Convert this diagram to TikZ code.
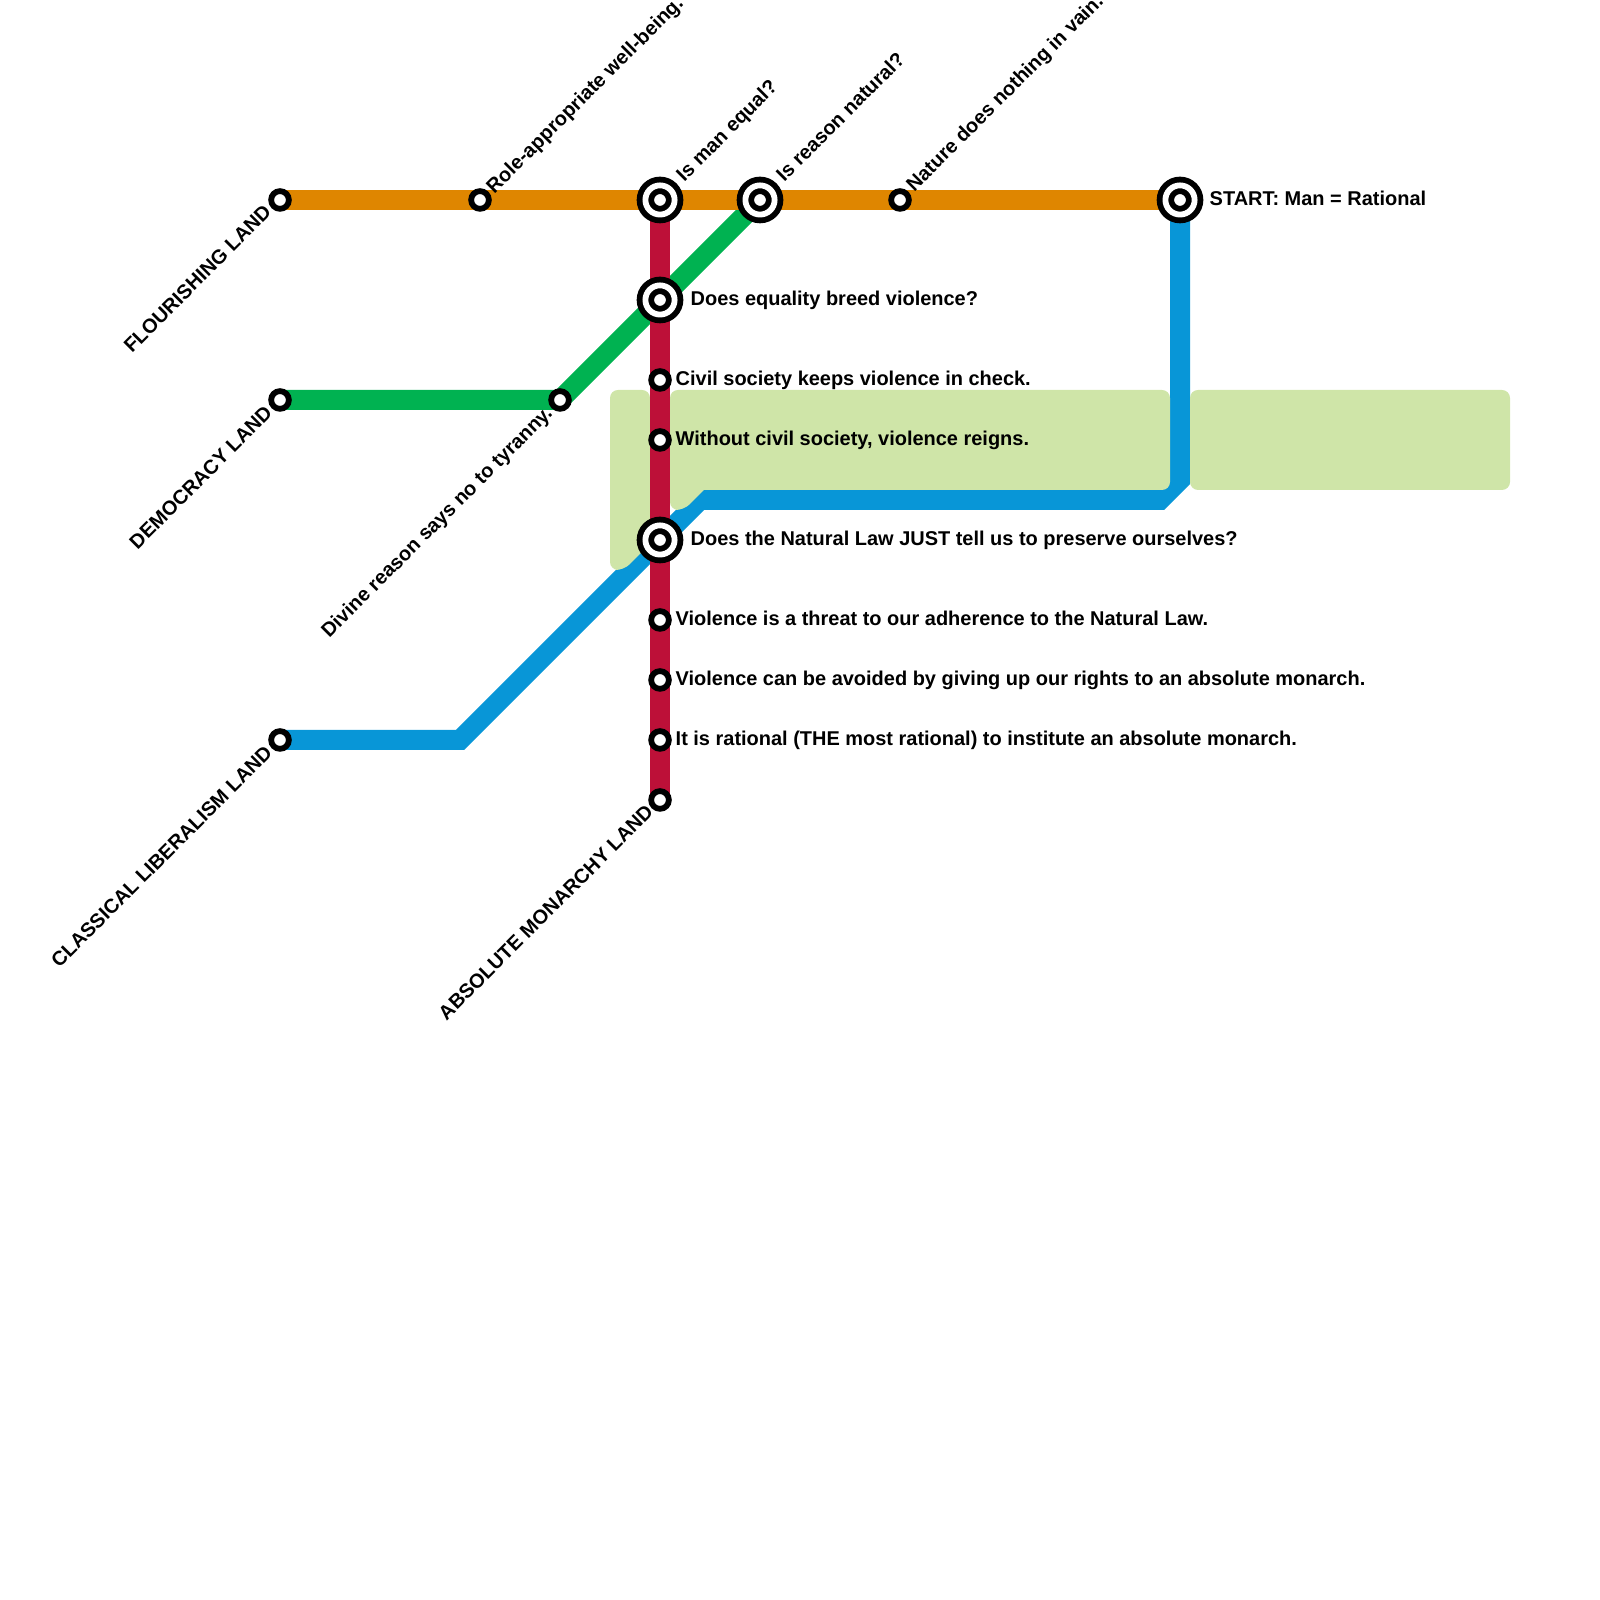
\documentclass[tikz,border=0pt]{standalone}
\usepackage{xcolor}
\usepackage{fontspec}
\setmainfont{Liberation Sans}
\usetikzlibrary{backgrounds}
\definecolor{MapOrange}{HTML}{DF8600}
\definecolor{MapGreen}{HTML}{00B251}
\definecolor{MapRed}{HTML}{BD1038}
\definecolor{MapBlue}{HTML}{0896D7}
\definecolor{MapZone}{HTML}{CFE5A8}
\tikzset{
  stop/.style={circle,draw=black,fill=white,line width=0.058cm,minimum size=0.177cm,inner sep=0pt,outer sep=0pt},
  hub/.style={circle,draw=black,fill=white,line width=0.058cm,double=white,double distance=0.058cm,minimum size=0.292cm,inner sep=0pt,outer sep=0pt},
  maplabel/.style={font=\bfseries\fontsize{5.68}{6.8}\selectfont,inner sep=0pt,text height=0.15cm,text depth=0.04cm},
  sidelabel/.style={maplabel,anchor=west},
  uplabel/.style={maplabel,anchor=west,rotate=45},
  downlabel/.style={maplabel,anchor=east,rotate=45},
  mapline/.style={line width=0.2cm,line join=miter},
  zone/.style={fill=MapZone,rounded corners=0.08cm}
}
\begin{document}
\begin{tikzpicture}[x=1cm,y=1cm]
\path[use as bounding box] (0,0) rectangle (16.00,16.00);
\node[stop] (flourishing) at (2.80,14.00) {};
\node[stop] (role) at (4.80,14.00) {};
\node[hub] (manequal) at (6.60,14.00) {};
\node[hub] (reasonnatural) at (7.60,14.00) {};
\node[stop] (naturevain) at (9.00,14.00) {};
\node[hub] (start) at (11.80,14.00) {};
\node[stop] (democracy) at (2.80,12.00) {};
\node[stop] (divine) at (5.60,12.00) {};
\node[hub] (equality) at (6.60,13.00) {};
\node[stop] (civil) at (6.60,12.20) {};
\node[stop] (without) at (6.60,11.60) {};
\node[hub] (naturallaw) at (6.60,10.60) {};
\node[stop] (threat) at (6.60,9.80) {};
\node[stop] (avoided) at (6.60,9.20) {};
\node[stop] (institute) at (6.60,8.60) {};
\node[stop] (monarchy) at (6.60,8.00) {};
\node[stop] (liberalism) at (2.80,8.60) {};
\coordinate (bluebendA) at (4.60,8.60);
\coordinate (bluebendB) at (7.00,11.00);
\coordinate (bluebendC) at (11.60,11.00);
\coordinate (bluebendD) at (11.80,11.20);
\begin{scope}[on background layer]
\draw[mapline,MapGreen] (democracy.center) -- (divine.center) -- (equality.center) -- (reasonnatural.center);
\draw[mapline,MapBlue] (liberalism.center) -- (bluebendA) -- (naturallaw.center) -- (bluebendB) -- (bluebendC) -- (bluebendD) -- (start.center);
\fill[zone] (6.10,12.10) -- (6.50,12.10) -- (6.50,10.56) -- (6.24,10.30) -- (6.10,10.30) -- cycle;
\fill[zone] (6.70,12.10) -- (11.70,12.10) -- (11.70,11.10) [sharp corners] -- (7.04,11.10) [rounded corners=0.08cm] -- (6.84,10.90) -- (6.70,10.90) -- cycle;
\fill[zone] (11.90,12.10) -- (15.10,12.10) -- (15.10,11.10) -- (11.90,11.10) -- cycle;
\draw[mapline,MapRed] (manequal.center) -- (monarchy.center);
\draw[mapline,MapOrange] (flourishing.center) -- (start.center);
\end{scope}
\node[sidelabel] (startlabel) at (12.09,14.00) {START: Man = Rational};
\node[sidelabel] (equalitylabel) at (6.90,13.00) {Does equality breed violence?};
\node[sidelabel] (civillabel) at (6.75,12.20) {Civil society keeps violence in check.};
\node[sidelabel] (withoutlabel) at (6.75,11.60) {Without civil society, violence reigns.};
\node[sidelabel] (naturallawlabel) at (6.90,10.60) {Does the Natural Law JUST tell us to preserve ourselves?};
\node[sidelabel] (threatlabel) at (6.75,9.80) {Violence is a threat to our adherence to the Natural Law.};
\node[sidelabel] (avoidedlabel) at (6.75,9.20) {Violence can be avoided by giving up our rights to an absolute monarch.};
\node[sidelabel] (institutelabel) at (6.75,8.60) {It is rational (THE most rational) to institute an absolute monarch.};
\node[uplabel] (rolelabel) at (4.90,14.09) {Role-appropriate well-being.};
\node[uplabel] (manequallabel) at (6.80,14.21) {Is man equal?};
\node[uplabel] (reasonnaturallabel) at (7.80,14.21) {Is reason natural?};
\node[uplabel] (naturevainlabel) at (9.10,14.11) {Nature does nothing in vain.};
\node[downlabel] (flourishinglabel) at (2.69,13.91) {FLOURISHING LAND};
\node[downlabel] (democracylabel) at (2.70,11.90) {DEMOCRACY LAND};
\node[downlabel] (liberalismlabel) at (2.70,8.50) {CLASSICAL LIBERALISM LAND};
\node[downlabel] (divinelabel) at (5.50,11.90) {Divine reason says no to tyranny.};
\node[downlabel] (monarchylabel) at (6.51,7.91) {ABSOLUTE MONARCHY LAND};
\end{tikzpicture}
\end{document}
